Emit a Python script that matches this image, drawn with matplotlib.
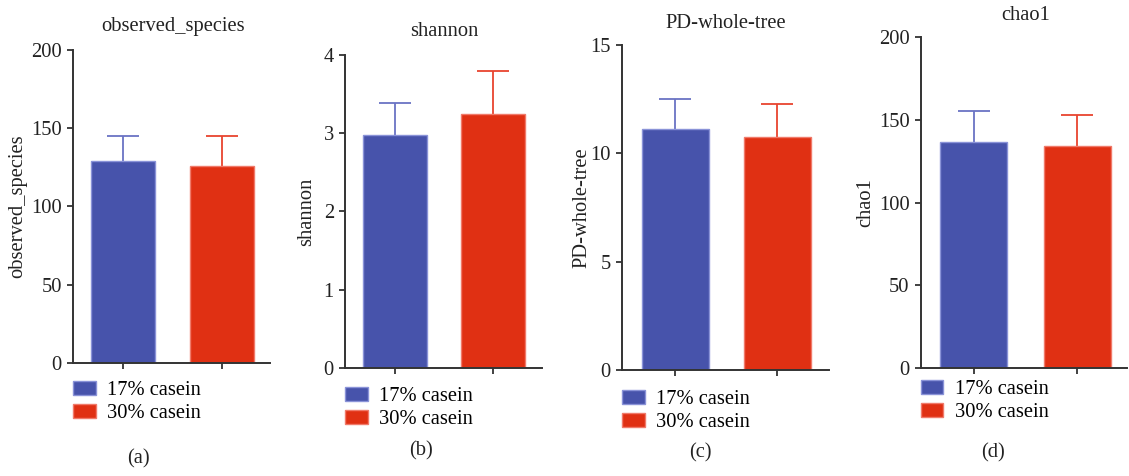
import matplotlib
matplotlib.use("Agg")
import matplotlib.pyplot as plt
import numpy as np

plt.rcParams['font.family'] = ['Liberation Serif', 'DejaVu Serif']

# data
groups = ['17% casein', '30% casein']
metrics = ['observed_species', 'shannon', 'PD-whole-tree', 'chao1']
means = {
    'observed_species': [128.8, 125.8],
    'shannon': [2.98, 3.25],
    'PD-whole-tree': [11.11, 10.77],
    'chao1': [136.6, 134.2],
}
upper_err = {
    'observed_species': [16.4, 19.0],
    'shannon': [0.41, 0.54],
    'PD-whole-tree': [1.41, 1.52],
    'chao1': [18.7, 18.7],
}
ymax = {'observed_species': 200, 'shannon': 4, 'PD-whole-tree': 15, 'chao1': 200}
yticks = {
    'observed_species': [0, 50, 100, 150, 200],
    'shannon': [0, 1, 2, 3, 4],
    'PD-whole-tree': [0, 5, 10, 15],
    'chao1': [0, 50, 100, 150, 200],
}
panel_labels = ['(a)', '(b)', '(c)', '(d)']

bar_colors = ['#4753ab', '#e03013']
edge_colors = ['#8a93d8', '#f07a6a']
err_colors = ['#6a73c4', '#e8442f']

W, H = 1129, 476
fig = plt.figure(figsize=(W / 100, H / 100), dpi=100)

# axes boxes in pixels: left, right, top, bottom
boxes = [(73, 270, 50, 362.7), (345, 542, 55, 367.7),
         (622, 829, 45, 370), (920.7, 1127, 36.7, 368.3)]
xlims = [(-0.505, 1.485), (-0.51, 1.495), (-0.523, 1.505), (-0.51, 1.478)]
ylab_x = [18, 307, 582, 866]
title_pos = [(173, 26), (444, 32), (726, 23), (1026, 15)]
leg_y = [381, 387, 390, 380]
plab_pos = [(138, 459), (421, 451), (700, 453), (993, 453)]

fs = 14.8
for i, m in enumerate(metrics):
    l, r, t, b = boxes[i]
    ax = fig.add_axes([l / W, 1 - b / H, (r - l) / W, (b - t) / H])
    x = np.arange(len(groups))
    for j in range(len(groups)):
        eb = ax.errorbar(x[j], means[m][j], yerr=[[0], [upper_err[m][j]]],
                         color=err_colors[j], capsize=11.5, elinewidth=1.3,
                         capthick=1.3, zorder=1)
        # hide the lower cap sitting on the bar top
        for cap in eb[1]:
            if np.isclose(cap.get_ydata()[0], means[m][j]):
                cap.set_visible(False)
        ax.bar(x[j], means[m][j], width=0.65, color=bar_colors[j],
               edgecolor=edge_colors[j], linewidth=1.0, zorder=2,
               label=groups[j])
    ax.set_xlim(*xlims[i])
    ax.set_ylim(0, ymax[m])
    ax.set_yticks(yticks[m])
    ax.set_xticks(x)
    ax.set_xticklabels([])
    for s in ['top', 'right']:
        ax.spines[s].set_visible(False)
    for s in ['left', 'bottom']:
        ax.spines[s].set_linewidth(1.4)
        ax.spines[s].set_color('#333333')
    ax.tick_params(axis='y', length=4, width=1.3, colors='#333333',
                   labelsize=fs, pad=4, labelcolor='#222222')
    ax.tick_params(axis='x', length=4, width=1.3, colors='#333333')
    ax.set_ylabel(m, fontsize=fs, color='#222222')
    ax.yaxis.label.set_va('center')
    ax.yaxis.set_label_coords((ylab_x[i] - l) / (r - l), 0.5)
    tx, ty = title_pos[i]
    fig.text(tx / W, 1 - ty / H, m, ha='center', va='center',
             fontsize=fs, color='#222222')
    ax.legend(loc='upper left', bbox_to_anchor=(l / W, 1 - leg_y[i] / H),
              bbox_transform=fig.transFigure, frameon=False, fontsize=fs,
              handlelength=1.1, handleheight=0.65, handletextpad=0.55,
              labelspacing=0.18, borderpad=0, borderaxespad=0)
    px, py = plab_pos[i]
    fig.text(px / W, 1 - py / H, panel_labels[i], ha='center', va='center',
             fontsize=fs, color='#222222')

fig.savefig('out.png', dpi=100)
